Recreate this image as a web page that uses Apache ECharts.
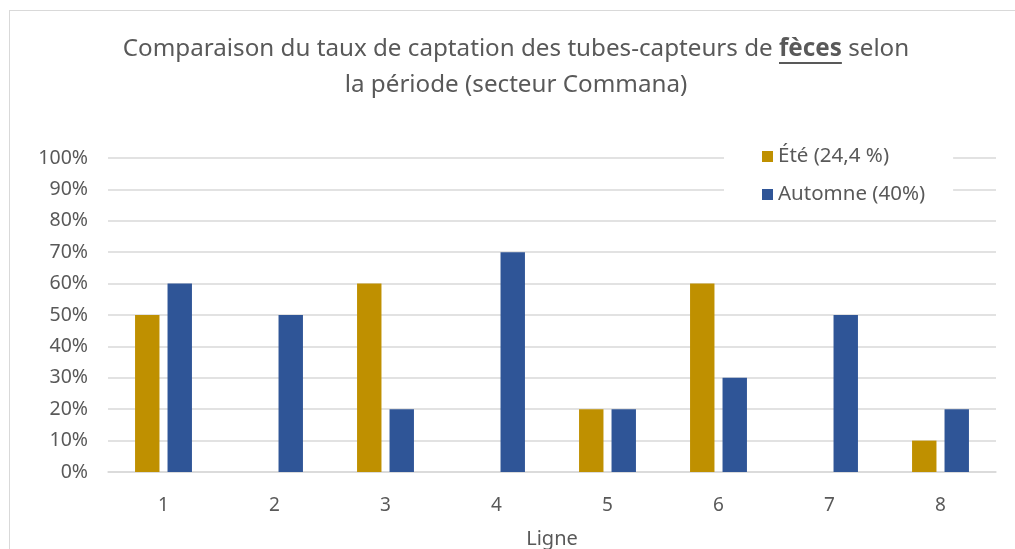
<!DOCTYPE html>
<html><head><meta charset="utf-8">
<script src="https://cdn.jsdelivr.net/npm/echarts@6/dist/echarts.min.js"></script>
<style>html,body{margin:0;padding:0;background:#fff;overflow:hidden;width:1015px;height:549px}#c{position:absolute;left:0;top:0;width:1015px;height:549px}
#frame{position:absolute;left:9px;top:10px;width:1006px;height:539px;border-left:1px solid #d9d9d9;border-top:1px solid #d9d9d9;box-sizing:border-box;pointer-events:none}</style>
</head><body><div id="c"></div><div id="frame"></div>
<script>
var categories = ['1','2','3','4','5','6','7','8'];
var ete = [50, 0, 60, 0, 20, 60, 0, 10];
var automne = [60, 50, 20, 70, 20, 30, 50, 20];
var seriesNames = ['Été (24,4 %)', 'Automne (40%)'];
var titlePre = 'Comparaison du taux de captation des tubes-capteurs de ';
var titleBold = 'fèces';
var titlePost = ' selon';
var titleLine2 = 'la période (secteur Commana)';

var font = 'Noto Sans';
var tSize = 24.2;
var ctx = document.createElement('canvas').getContext('2d');
ctx.font = tSize + 'px "' + font + '"';
var wPre = ctx.measureText(titlePre).width;
var wPost = ctx.measureText(titlePost).width;
ctx.font = 'bold ' + tSize + 'px "' + font + '"';
var wBold = ctx.measureText(titleBold).width;
var line1W = wPre + wBold + wPost;
var titleCenter = 516;
var titleTop = 31;
var ulX1 = titleCenter - line1W / 2 + wPre, ulX2 = ulX1 + wBold, ulY = titleTop + 32;

var chart = echarts.init(document.getElementById('c'));
chart.setOption({
  animation: false,
  title: {
    text: '{n|' + titlePre + '}{b|' + titleBold + '}{n|' + titlePost + '}\n{n|' + titleLine2 + '}',
    left: titleCenter, top: titleTop, padding: 0,
    textAlign: 'center',
    textStyle: {
      fontWeight: 'normal',
      rich: {
        n: {fontFamily: font, fontSize: tSize, color: '#595959', fontWeight: 'normal', lineHeight: 36},
        b: {fontFamily: font, fontSize: tSize, color: '#595959', fontWeight: 'bold', lineHeight: 36}
      }
    }
  },
  legend: {
    orient: 'vertical', left: 724, top: 139,
    padding: [7, 28, 7, 38],
    backgroundColor: '#fff',
    itemWidth: 11, itemHeight: 11, itemGap: 17,
    icon: 'rect',
    textStyle: {fontFamily: font, fontSize: 20.5, color: '#595959'},
    data: seriesNames
  },
  grid: {left: 108, right: 19, top: 158, bottom: 77, outerBoundsMode: 'none', containLabel: false},
  xAxis: {
    type: 'category', data: categories,
    name: 'Ligne', nameLocation: 'middle', nameGap: 57,
    nameTextStyle: {fontFamily: font, fontSize: 20, color: '#595959'},
    axisLine: {lineStyle: {color: '#d9d9d9', width: 1.5}},
    axisTick: {show: false},
    axisLabel: {fontFamily: font, fontSize: 19, color: '#595959', margin: 24}
  },
  yAxis: {
    type: 'value', min: 0, max: 100, interval: 10,
    axisLine: {show: false}, axisTick: {show: false},
    axisLabel: {fontFamily: font, fontSize: 19.5, color: '#595959', margin: 20, formatter: function(v){return v + '%';}},
    splitLine: {lineStyle: {color: '#d9d9d9', width: 1.5}}
  },
  series: [
    {name: seriesNames[0], type: 'bar', data: ete, barWidth: '22%', barGap: '33%', itemStyle: {color: '#BF9000'}},
    {name: seriesNames[1], type: 'bar', data: automne, barWidth: '22%', barGap: '33%', itemStyle: {color: '#2F5597'}}
  ],
  graphic: [
    {type: 'line', shape: {x1: ulX1, y1: ulY, x2: ulX2, y2: ulY}, style: {stroke: '#595959', lineWidth: 2}}
  ]
});
</script></body></html>
